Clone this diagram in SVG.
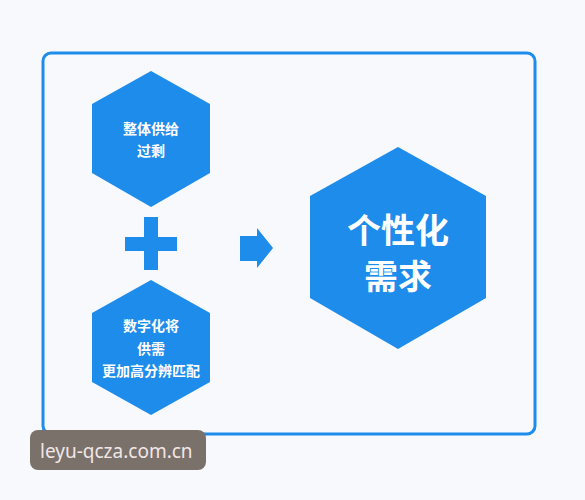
<svg xmlns="http://www.w3.org/2000/svg" width="585" height="500" viewBox="0 0 585 500">
<style>
.hex{fill:#1e8ceb}
.t{fill:#ffffff;font-family:"Noto Sans CJK SC","Noto Sans",sans-serif;font-weight:bold;text-anchor:middle;dominant-baseline:central}
.s{font-size:14px}
.b{font-size:34px}
.wm{fill:#f3e6e6;font-family:"Noto Sans","DejaVu Sans",sans-serif;font-size:19px}
</style>
<rect x="0" y="0" width="585" height="500" fill="#f8f9fc"/>
<rect x="43" y="53" width="492" height="381" rx="8" fill="#f8f9fd" stroke="#1e8ceb" stroke-width="3"/>
<g id="node-supply">
<polygon class="hex" points="151,71 210,104 210,173 151,207 92,173 92,104"/>
<text class="t s" x="151" y="128">整体供给</text>
<text class="t s" x="151" y="150">过剩</text>
</g>
<g id="node-digital">
<polygon class="hex" points="151,280 210,313 210,382 151,415 92,382 92,313"/>
<text class="t s" x="151" y="325">数字化将</text>
<text class="t s" x="151" y="348">供需</text>
<text class="t s" x="151" y="370">更加高分辨匹配</text>
</g>
<g id="node-demand">
<polygon class="hex" points="398,147 486,196 486,298 398,349 310,298 310,196"/>
<text class="t b" x="398" y="228"><tspan x="398" y="228">个性化</tspan><tspan x="398" y="274">需求</tspan></text>
</g>
<g id="connectors">
<path class="hex" d="M144,217 H158 V237 H177 V251 H158 V270 H144 V251 H125 V237 H144 Z"/>
<path class="hex" d="M240,236 H257 V228 L273,248 L257,268 V261 H240 Z"/>
</g>
<g id="watermark">
<rect x="30" y="430" width="176" height="40" rx="8" fill="#79716a"/>
<text class="wm" x="40" y="458">leyu-qcza.com.cn</text>
</g>
</svg>
